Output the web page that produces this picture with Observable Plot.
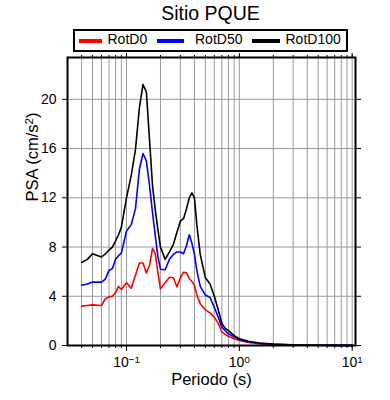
<!DOCTYPE html>
<html><head><meta charset="utf-8">
<script src="https://cdn.jsdelivr.net/npm/d3@7"></script>
<script src="https://cdn.jsdelivr.net/npm/@observablehq/plot@0.6"></script>
<style>
body{margin:0;background:#fff;font-family:"Liberation Sans",Arial,Helvetica,sans-serif;color:#000;}
#head{position:relative;width:390px;height:52px;}
#title{position:absolute;left:0;top:2px;width:421px;text-align:center;font-size:19.5px;line-height:22px;}
#legbox{position:absolute;left:73px;top:29px;width:275px;height:23px;border:2px solid #000;box-sizing:border-box;}
.sw{position:absolute;top:39px;height:4px;}
.lt{position:absolute;top:32px;font-size:14px;line-height:14px;white-space:nowrap;}
#chart svg{display:block;}
</style></head><body>
<div id="head">
  <div id="title"></div>
  <div id="legbox"></div>
  <div id="legend"></div>
</div>
<div id="chart"></div>
<script>
const title = "Sitio PQUE";
const seriesNames = ["RotD0", "RotD50", "RotD100"];
const seriesColors = ["#ff0000", "#0000ff", "#000000"];
const periods = [0.04,0.045,0.05,0.06,0.065,0.07,0.075,0.08,0.085,0.09,0.1,0.11,0.12,0.13,0.14,0.15,0.16,0.17,0.18,0.19,0.2,0.22,0.24,0.26,0.28,0.3,0.32,0.34,0.36,0.38,0.4,0.42,0.45,0.5,0.55,0.6,0.65,0.7,0.75,0.8,0.9,1.0,1.2,1.5,2,2.5,3,4,5,7.5,10];
const rotD0 = [3.2,3.25,3.3,3.25,3.8,3.95,4.0,4.3,4.8,4.55,5.1,4.65,5.7,6.7,6.7,5.9,6.5,7.9,7.45,5.9,4.6,5.1,5.55,5.5,4.75,5.5,5.95,5.9,5.45,5.2,4.9,4.1,3.4,2.9,2.65,2.3,1.8,1.1,0.9,0.75,0.55,0.4,0.25,0.14,0.08,0.05,0.035,0.02,0.015,0.008,0.006];
const rotD50 = [4.9,5.0,5.15,5.15,5.4,6.1,6.25,7.0,7.3,7.5,9.3,9.8,11.1,14.3,15.6,15.0,13.0,10.8,8.9,7.2,6.2,6.15,7.0,7.4,7.6,7.6,7.45,8.1,9.0,8.3,7.4,6.1,4.8,4.1,3.9,3.1,2.3,1.5,1.2,0.95,0.7,0.48,0.3,0.17,0.1,0.07,0.045,0.025,0.02,0.01,0.008];
const rotD100 = [6.75,7.0,7.45,7.2,7.45,7.75,8.0,8.5,9.0,9.6,12.0,13.8,15.9,19.3,21.2,20.6,16.7,13.0,11.0,9.4,8.0,7.0,7.6,8.2,9.2,10.1,10.3,11.1,12.0,12.4,12.0,9.8,7.4,5.5,5.0,4.0,2.9,1.8,1.4,1.2,0.8,0.55,0.35,0.2,0.12,0.08,0.05,0.03,0.02,0.01,0.01];
const xMajorTicks = [0.1, 1, 10];
const xMinorTicks = [0.04,0.05,0.06,0.07,0.08,0.09,0.1,0.2,0.3,0.4,0.5,0.6,0.7,0.8,0.9,1,2,3,4,5,6,7,8,9,10];
const yTicks = [0, 4, 8, 12, 16, 20];
const yGrid = [4, 8, 12, 16, 20];
const xLabel = "Periodo (s)";
const yLabelMain = "PSA (cm/s";
const yLabelSup = "2";
const yLabelEnd = ")";

document.getElementById("title").textContent = title;

// legend
const leg = document.getElementById("legend");
const swPos = [[79, 23, 107.5], [157, 27, 195], [252, 28, 285.5]];
seriesNames.forEach((n, i) => {
  const s = document.createElement("div");
  s.className = "sw"; s.style.left = swPos[i][0] + "px"; s.style.width = swPos[i][1] + "px";
  s.style.background = seriesColors[i];
  leg.appendChild(s);
  const t = document.createElement("div");
  t.className = "lt"; t.style.left = swPos[i][2] + "px"; t.textContent = n;
  leg.appendChild(t);
});

const allSeries = [rotD0, rotD50, rotD100];
const rows = [];
allSeries.forEach((vals, i) => vals.forEach((v, j) => rows.push({series: seriesNames[i], T: periods[j], v})));

const expOf = d => Math.round(Math.log10(d));
const expStr = d => String(expOf(d)).replace("-", "\u2212");

const chart = Plot.plot({
  width: 390,
  height: 348,
  marginTop: 5,
  marginLeft: 67,
  marginRight: 35,
  marginBottom: 55,
  style: {fontFamily: "'Liberation Sans', Arial, sans-serif", fontSize: "13.5px", color: "#000", background: "#fff"},
  x: {type: "log", domain: [0.03, 10.7]},
  y: {domain: [0, 23.4]},
  color: {domain: seriesNames, range: seriesColors},
  marks: [
    Plot.ruleX(xMinorTicks, {stroke: "#999", strokeWidth: 1}),
    Plot.ruleY(yGrid, {stroke: "#999", strokeWidth: 1}),
    Plot.line(rows, {x: "T", y: "v", z: "series", stroke: "series", strokeWidth: 1.6}),
    Plot.axisX({ticks: xMinorTicks, tickSize: 3, tickFormat: () => "", label: null}),
    Plot.axisX({ticks: xMajorTicks, tickSize: 6, tickPadding: 6, tickFormat: d => "10" + expStr(d), label: null, fontSize: 14}),
    Plot.axisX({anchor: "top", ticks: xMinorTicks, tickSize: 3, tickFormat: () => "", label: null}),
    Plot.axisX({anchor: "top", ticks: xMajorTicks, tickSize: 5, tickFormat: () => "", label: null}),
    Plot.axisY({ticks: yTicks, tickSize: 5, tickPadding: 6, tickFormat: d => String(d), label: null, fontSize: 14}),
    Plot.axisY({anchor: "right", ticks: yTicks, tickSize: 5, tickFormat: () => "", label: null}),
    Plot.frame({stroke: "#000", strokeWidth: 2}),
    Plot.text([xLabel], {frameAnchor: "bottom", dy: 39.5, lineAnchor: "bottom", fontSize: 16.5, text: d => d}),
    Plot.text([yLabelMain + yLabelSup + yLabelEnd], {frameAnchor: "left", dx: -29.5, rotate: -90, lineAnchor: "bottom", fontSize: 16.5, text: d => d})
  ]
});

// superscripts as real tspans
const svg = d3.select(chart.tagName === "svg" ? chart : chart.querySelector("svg"));
svg.selectAll("text").each(function() {
  const el = d3.select(this);
  const s = this.textContent;
  const tick = xMajorTicks.find(t => s === "10" + expStr(t));
  if (tick !== undefined) {
    el.text("10");
    el.append("tspan").attr("dy", "-0.42em").attr("font-size", "0.7em").text(expStr(tick));
  } else if (s === yLabelMain + yLabelSup + yLabelEnd) {
    el.text(yLabelMain);
    el.append("tspan").attr("dy", "-0.42em").attr("font-size", "0.7em").text(yLabelSup);
    el.append("tspan").attr("dy", "0.3em").text(yLabelEnd);
  }
});
document.getElementById("chart").appendChild(chart);
</script>
</body></html>
